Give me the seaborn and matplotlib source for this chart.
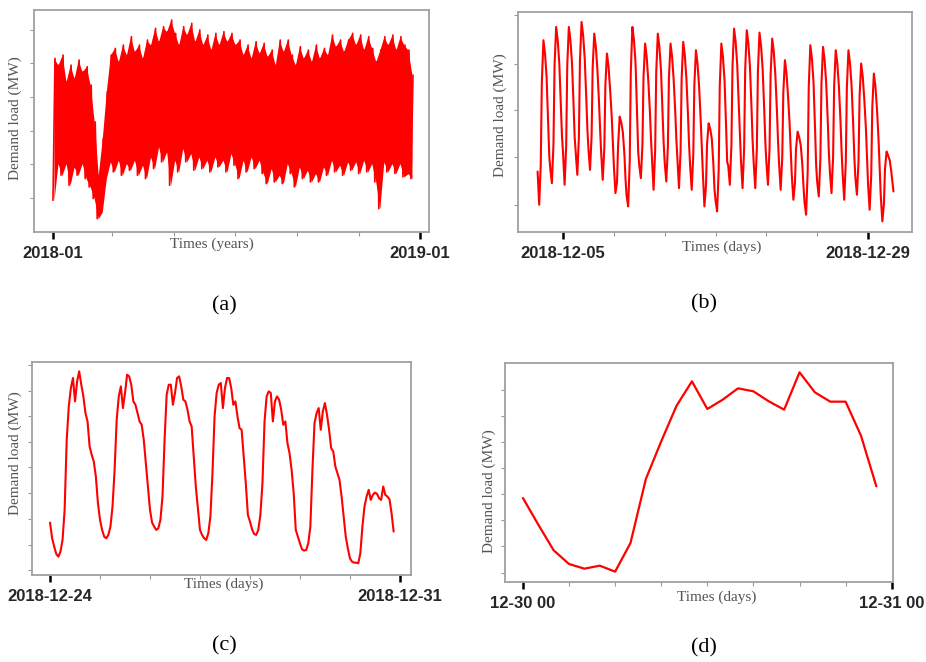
import numpy as np
import pandas as pd
import matplotlib
matplotlib.use("Agg")
import matplotlib.pyplot as plt
import seaborn as sns

# ---- (a) whole year 2018: daily low / high read every 4 days (plot units)
year_days = list(range(0, 360, 4))
year_high = [520, 500, 530, 450, 500, 460, 515, 480, 495, 440, 330, 170, 280, 420, 530,
             550, 510, 560, 530, 585, 540, 560, 520, 575, 560, 610, 570, 615, 600, 635,
             595, 560, 615, 590, 625, 570, 605, 560, 590, 545, 595, 560, 600, 570, 595,
             560, 575, 530, 560, 520, 570, 535, 565, 525, 545, 500, 575, 540, 575, 530,
             500, 555, 520, 545, 510, 560, 520, 550, 530, 590, 555, 575, 540, 575, 595,
             560, 590, 545, 585, 550, 510, 545, 585, 560, 590, 545, 585, 560, 545, 470]
year_low = [95, 205, 170, 205, 140, 195, 170, 205, 160, 135, 100, 40, 60, 160, 210,
            180, 215, 170, 205, 185, 215, 170, 200, 160, 225, 190, 255, 210, 240, 140,
            215, 180, 250, 210, 235, 185, 225, 190, 215, 180, 225, 195, 215, 180, 235,
            200, 160, 215, 180, 225, 190, 215, 175, 145, 190, 150, 170, 145, 205, 175,
            135, 195, 160, 185, 150, 175, 150, 195, 170, 215, 180, 200, 170, 210, 185,
            210, 175, 215, 180, 205, 150, 70, 210, 180, 205, 175, 205, 165, 175, 160]

# ---- (b) December 3 - 31: values at fixed hours of each day
month_hours = [0, 3, 6, 8, 11, 14, 17, 20, 22]
month_days = [
    [182, 82, 205, 450, 577, 537, 467, 330, 230],
    [190, 147, 265, 500, 617, 577, 507, 380, 290],
    [240, 142, 260, 500, 617, 577, 507, 380, 285],
    [240, 172, 287, 517, 632, 592, 522, 400, 310],
    [250, 187, 290, 495, 597, 557, 487, 390, 310],
    [240, 157, 252, 442, 537, 497, 427, 347, 270],
    [200, 117, 150, 260, 347, 330, 300, 232, 160],
    [110, 77, 212, 482, 617, 577, 507, 347, 240],
    [200, 162, 263, 465, 567, 527, 457, 365, 285],
    [220, 127, 245, 480, 597, 557, 487, 362, 270],
    [210, 152, 256, 463, 567, 527, 457, 360, 280],
    [220, 132, 242, 462, 572, 532, 462, 352, 265],
    [200, 127, 232, 442, 547, 507, 437, 337, 255],
    [180, 77, 140, 265, 327, 310, 280, 202, 130],
    [95, 62, 188, 440, 567, 527, 457, 315, 210],
    [200, 142, 260, 495, 612, 572, 502, 377, 285],
    [215, 132, 250, 488, 607, 567, 497, 370, 275],
    [210, 132, 249, 483, 600, 560, 490, 366, 272],
    [210, 142, 252, 472, 582, 542, 472, 362, 275],
    [205, 127, 225, 420, 517, 477, 407, 322, 245],
    [170, 97, 148, 250, 302, 285, 260, 200, 140],
    [90, 52, 180, 435, 562, 522, 452, 307, 200],
    [150, 107, 220, 445, 557, 517, 447, 332, 240],
    [180, 117, 225, 440, 547, 507, 437, 332, 245],
    [175, 97, 210, 435, 547, 507, 437, 322, 230],
    [165, 112, 211, 408, 507, 467, 397, 310, 230],
    [145, 67, 170, 375, 477, 437, 367, 272, 190],
    [110, 32, 85, 190, 242, 230, 215, 180, 150],
]
month_last = 122  # 2018-12-31 00:00

# ---- (c) December 24 - 30, hourly
week_load = [
    142, 95, 70, 48, 40, 55, 90, 180, 390, 490, 545, 575, 505, 565, 595, 555, 520, 470, 445, 370, 345, 325, 280, 200,
    150, 120, 100, 95, 105, 130, 190, 300, 450, 520, 550, 485, 530, 585, 580, 555, 505, 495, 470, 445, 435, 390, 320, 250,
    180, 142, 130, 120, 125, 150, 220, 390, 525, 555, 555, 495, 530, 575, 580, 550, 510, 505, 480, 445, 430, 340, 250, 185,
    120, 105, 95, 90, 110, 160, 290, 460, 530, 555, 560, 485, 545, 575, 575, 545, 495, 505, 460, 425, 420, 340, 260, 165,
    145, 122, 108, 105, 120, 165, 260, 445, 520, 535, 530, 445, 505, 520, 510, 480, 435, 445, 380, 350, 300, 230, 120, 100,
    80, 62, 58, 60, 80, 130, 300, 440, 470, 485, 420, 475, 500, 465, 420, 365, 355, 310, 290, 270, 220, 160, 100, 65,
    35, 25, 22, 22, 20, 50, 130, 190, 220, 240, 210, 225, 232, 228, 215, 210, 250, 225, 220, 212, 170, 115,
]

# ---- (d) December 30, hourly
day_load = [252, 172, 95, 54, 40, 49, 31, 117, 309, 422, 529, 602,
            519, 547, 581, 572, 542, 517, 629, 569, 541, 541, 439, 287]

RED = "#ff0000"
sns.set_style("white")
plt.rcParams["font.family"] = ["Liberation Sans", "DejaVu Sans"]

fig = plt.figure(figsize=(9.26, 6.62), dpi=100)
W, H = 926, 662


def add_axes(l, t, r, b):
    return fig.add_axes([l / W, 1 - b / H, (r - l) / W, (b - t) / H])


def dress(ax, xlim, ylim, yticks, ends, end_labels, mids):
    ax.set_xlim(*xlim)
    ax.set_ylim(*ylim)
    ax.set_yticks(yticks)
    ax.set_yticklabels([])
    ax.set_xticks(ends)
    ax.set_xticklabels(end_labels, fontsize=12, fontweight="bold")
    ax.set_xticks(mids, minor=True)
    ax.tick_params(axis="x", which="major", bottom=True, length=5, width=1.8,
                   color="black", pad=5, direction="out")
    ax.tick_params(axis="x", which="minor", bottom=True, length=3, width=0.8,
                   color="#999999", direction="out")
    ax.tick_params(axis="y", left=True, length=3, width=0.8, color="#999999", direction="out")
    ax.set_xlabel("")
    ax.set_ylabel("")
    for s in ax.spines.values():
        s.set_color("#a0a0a0")
        s.set_linewidth(1.3)


def labels(xl, xy, yxy, tag, tagxy):
    fig.text(xy[0] / W, 1 - xy[1] / H, xl, ha="center", va="top", fontsize=11,
             family="Liberation Serif", color="#555555")
    fig.text(yxy[0] / W, 1 - yxy[1] / H, "Demand load (MW)", ha="center", va="center",
             rotation=90, fontsize=11, family="Liberation Serif", color="#555555")
    fig.text(tagxy[0] / W, 1 - tagxy[1] / H, tag, ha="center", va="center", fontsize=16,
             family="Liberation Serif", color="black")


# (a)
start = pd.Timestamp("2018-01-01")
t_low = start + pd.to_timedelta(year_days, unit="D")
t_high = t_low + pd.Timedelta(days=2)
year_df = pd.DataFrame({"time": list(t_low) + list(t_high),
                        "load": year_low + year_high}).sort_values("time")
ax = add_axes(34, 10, 429, 232)
sns.lineplot(data=year_df, x="time", y="load", color=RED, linewidth=1.2, ax=ax)
ax.fill_between(t_low + pd.Timedelta(days=1), year_low, year_high, color=RED, lw=0)
dress(ax, (pd.Timestamp("2017-12-13 03:00"), pd.Timestamp("2019-01-09 22:00")), (0, 665),
      [103, 204, 304, 405, 505, 605],
      [pd.Timestamp("2018-01-01"), pd.Timestamp("2019-01-01")], ["2018-01", "2019-01"],
      pd.to_datetime(["2018-03-01", "2018-05-01", "2018-07-01", "2018-09-01", "2018-11-01"]))
labels("Times (years)", (212, 238), (15, 118), "(a)", (224, 306))

# (b)
times, loads = [], []
for i, row in enumerate(month_days):
    day = pd.Timestamp("2018-12-03") + pd.Timedelta(days=i)
    for h, v in zip(month_hours, row):
        times.append(day + pd.Timedelta(hours=h))
        loads.append(v)
times.append(pd.Timestamp("2018-12-31"))
loads.append(month_last)
month_df = pd.DataFrame({"time": times, "load": loads})
ax = add_axes(518, 12, 912, 232)
sns.lineplot(data=month_df, x="time", y="load", color=RED, linewidth=1.5, ax=ax)
dress(ax, (pd.Timestamp("2018-12-01 11:00"), pd.Timestamp("2019-01-01 11:00")), (0, 662),
      [82, 227, 367, 507, 652],
      [pd.Timestamp("2018-12-05"), pd.Timestamp("2018-12-29")], ["2018-12-05", "2018-12-29"],
      pd.to_datetime(["2018-12-09", "2018-12-13", "2018-12-17", "2018-12-21", "2018-12-25"]))
labels("Times (days)", (722, 241), (500, 115), "(b)", (704, 304))

# (c)
week_df = pd.DataFrame({"time": pd.date_range("2018-12-24", periods=len(week_load), freq="h"),
                        "load": week_load})
ax = add_axes(32, 362, 411, 575)
sns.lineplot(data=week_df, x="time", y="load", color=RED, linewidth=1.5, ax=ax)
dress(ax, (pd.Timestamp("2018-12-23 15:20"), pd.Timestamp("2018-12-31 05:20")), (-15, 623),
      [0, 75, 153, 230, 307, 383, 460, 537, 615],
      [pd.Timestamp("2018-12-24"), pd.Timestamp("2018-12-31")], ["2018-12-24", "2018-12-31"],
      pd.date_range("2018-12-25", "2018-12-30", freq="D"))
labels("Times (days)", (224, 578), (15, 453), "(c)", (224, 646))

# (d)
day_df = pd.DataFrame({"time": pd.date_range("2018-12-30", periods=len(day_load), freq="h"),
                       "load": day_load})
ax = add_axes(505, 363, 893, 582)
sns.lineplot(data=day_df, x="time", y="load", color=RED, linewidth=1.6, ax=ax)
dress(ax, (pd.Timestamp("2018-12-29 22:50"), pd.Timestamp("2018-12-31 00:05")), (0, 657),
      [27, 107, 186, 264, 343, 421, 499, 577],
      [pd.Timestamp("2018-12-30"), pd.Timestamp("2018-12-31")], ["12-30 00", "12-31 00"],
      pd.date_range("2018-12-30 03:00", "2018-12-30 21:00", freq="3h"))
labels("Times (days)", (717, 591), (489, 491), "(d)", (704, 648))

fig.savefig("out.png", dpi=100)
